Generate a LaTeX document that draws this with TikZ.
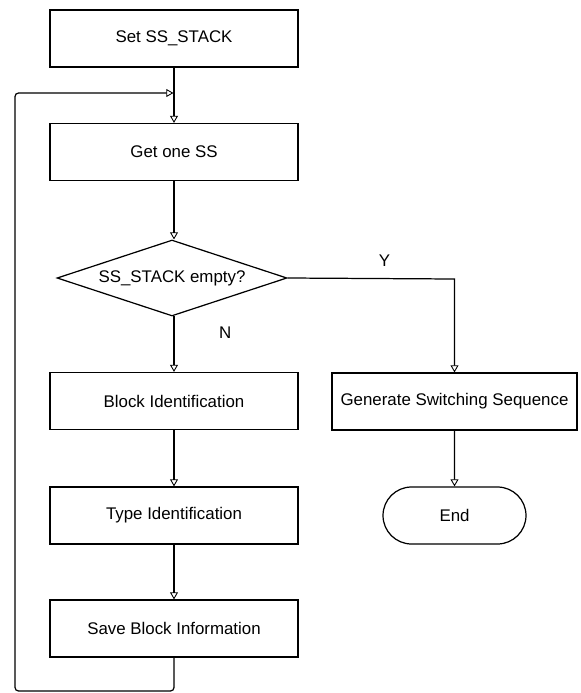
\documentclass[tikz,border=0pt]{standalone}
\usepackage{fontspec}
\setmainfont{Liberation Sans}
\usetikzlibrary{positioning,shapes.geometric,shapes.misc,arrows.meta}

\begin{document}
\begin{tikzpicture}[x=0.02cm, y=-0.02cm,
    font=\fontsize{9.6}{11}\selectfont,
    line width=0.7pt,
    box/.style={draw, rectangle, minimum width=4.96cm, minimum height=1.14cm, inner sep=0pt},
    decide/.style={draw, diamond, aspect=3, minimum width=4.6cm, minimum height=1.52cm, inner sep=0pt},
    term/.style={draw, rounded rectangle, minimum width=2.86cm, minimum height=1.14cm, inner sep=0pt},
    flow/.style={-{Triangle[open, length=4pt, width=4.5pt, line width=0.5pt]}}]

\useasboundingbox (0,0) rectangle (581,693);

% ── Left column (x = 174) ────────────────────────────────────
\node[box]    (set)   at (174,38.5)  {Set SS\_STACK};
\node[box]    (get)   at (174,152)   {Get one SS};
\node[decide] (dec)   at (172,278)   {SS\_STACK empty?};
\node[box]    (block) at (174,401)   {Block Identification};
\node[box]    (type)  at (174,515.5) {Type Identification};
\node[box]    (save)  at (174,628.5) {Save Block Information};

% ── Right column (x = 454) ───────────────────────────────────
\node[box, minimum width=4.9cm] (gen) at (454.5,401.5) {Generate Switching Sequence};
\node[term]   (end)   at (454.5,515.5) {End};

% ── Loop back corners ────────────────────────────────────────
\coordinate (bot)  at (174,691);
\coordinate (botL) at (15,691);
\coordinate (topL) at (15,93);
\coordinate (join) at (174,93);
\coordinate (yes)  at (454.5,279);
\coordinate (fork) at (174,316);

% ── Connectors ───────────────────────────────────────────────
\draw[flow] (set) -- (get);
\draw[flow] (get) -- (dec.north -| get);
\draw[flow] (fork) -- node[pos=0.3, right=22pt] {N} (block);
\draw[flow] (block) -- (type);
\draw[flow] (type) -- (save);
\draw[flow] (dec.east) -- node[pos=0.58, above=3pt] {Y} (yes) -- (gen);
\draw[flow] (gen) -- (end);
\draw[flow, rounded corners=2pt] (save) -- (bot) -- (botL) -- (topL) -- ([xshift=-0.35pt]join);

\end{tikzpicture}
\end{document}
